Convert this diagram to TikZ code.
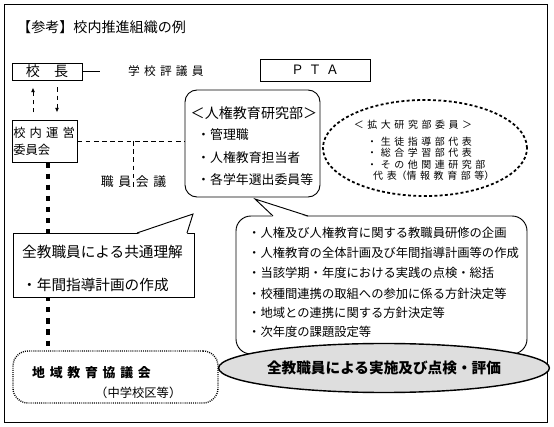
\documentclass[tikz,border=0pt]{standalone}
\usepackage{fontspec}
\setmainfont{Noto Sans CJK JP}[WordSpace=1.6]
\usetikzlibrary{arrows.meta,shapes.geometric}
\begin{document}
\begin{tikzpicture}[x=0.03cm,y=-0.03cm]
		\tikzstyle{every node}=[inner sep=0pt];
		\tikzstyle{frame}=[draw,line width=0.8pt];
		\tikzstyle{link}=[dash pattern=on 4pt off 3pt,line width=0.8pt];
		\tikzstyle{tip}=[-{Latex[length=4pt,width=3.5pt]}];
		\useasboundingbox (0,0) rectangle (554,427);
		\draw[line width=0.8pt] (4,4) rectangle (547,422);
		\node[anchor=west,font=\fontsize{12}{14}\selectfont] (title) at (17,27) {【参考】校内推進組織の例};
		\node[frame,minimum width=2.1cm,minimum height=0.51cm,font=\fontsize{12}{14}\selectfont] (kocho) at (47,71.5) {校　長};
		\node[anchor=west,font=\fontsize{10}{12}\selectfont] (hyogi) at (128,71.5) {学 校 評 議 員};
		\coordinate (stub) at (100,71.5);
		\draw[line width=0.8pt] (kocho.east) -- (stub);
		\node[frame,minimum width=3.3cm,minimum height=0.66cm,font=\fontsize{11}{13}\selectfont] (pta) at (315,70) {Ｐ Ｔ Ａ};
		\node[frame,minimum width=1.95cm,minimum height=1.26cm,align=left,text width=1.87cm,font=\fontsize{10.5}{14.5}\selectfont] (unei) at (44.5,141) {校 内 運 営\\委員会};
		\coordinate (up) at (33,0);
		\coordinate (down) at (57,0);
		\draw[link,tip,shorten <=6pt,shorten >=6pt] (up |- unei.north) -- (up |- kocho.south);
		\draw[link,tip,shorten <=6pt,shorten >=6pt] (down |- kocho.south) -- (down |- unei.north);
		\node[draw,rounded corners=0.36cm,line width=0.8pt,minimum width=4.05cm,minimum height=3.21cm] (kenkyu) at (252.5,143.5) {};
		\node[font=\fontsize{12}{14}\selectfont] (kenkyuhead) at (254,113) {＜人権教育研究部＞};
		\node[anchor=west,font=\fontsize{11}{13}\selectfont] (kanri) at (197,135) {・管理職};
		\node[anchor=west,font=\fontsize{11}{13}\selectfont] (tanto) at (197,158) {・人権教育担当者};
		\node[anchor=west,font=\fontsize{11}{13}\selectfont] (senshutsu) at (197,180) {・各学年選出委員等};
		\draw[link] (unei.east) -- (unei.east -| kenkyu.west);
		\node[font=\fontsize{11}{13}\selectfont] (kaigi) at (133.5,182) {職 員 会 議};
		\coordinate (j) at (133.5,141);
		\coordinate (jend) at (133.5,187);
		\draw[link,line width=1pt] (j) -- (jend);
		\node[draw,ellipse,line width=1.5pt,dash pattern=on 2.5pt off 2pt,minimum width=6.12cm,minimum height=2.88cm] (kakudai) at (425,148) {};
		\node[font=\fontsize{8.5}{10}\selectfont] (kakudaihead) at (413,125) {＜ 拡 大 研 究 部 委 員 ＞};
		\node[anchor=west,font=\fontsize{8.5}{10}\selectfont] (seito) at (367,141.5) {・ 生 徒 指 導 部 代 表};
		\node[anchor=west,font=\fontsize{8.5}{10}\selectfont] (sogo) at (367,153) {・ 総 合 学 習 部 代 表};
		\node[anchor=west,font=\fontsize{8.5}{10}\selectfont] (sonota) at (367,164.5) {・ そ の 他 関 連 研 究 部};
		\node[anchor=west,font=\fontsize{8.5}{10}\selectfont] (joho) at (373,176) {代 表（情 報 教 育 部 等）};
		\node[draw,rounded corners=0.45cm,line width=1.2pt,dash pattern=on 0.8pt off 1pt,minimum width=6.15cm,minimum height=1.56cm] (chiiki) at (115.5,377) {};
		\node[anchor=west,font=\bfseries\fontsize{11}{13}\selectfont] (chiikiname) at (32,373) {地 域 教 育 協 議 会};
		\node[anchor=west,font=\fontsize{10.5}{12}\selectfont] (kuiki) at (95,393) {（中学校区等）};
		\coordinate (col) at (48,0);
		\draw[line width=3.4pt,dash pattern=on 4.5pt off 5pt] (col |- unei.south) -- (col |- chiiki.north);
		\node[frame,fill=white,minimum width=5.43cm,minimum height=1.92cm] (rikai) at (103.5,265) {};
		\coordinate (rt) at (193,214);
		\coordinate (ra) at (137,233);
		\coordinate (rb) at (187,233);
		\fill[white] ([yshift=-1pt]ra) -- (rt) -- ([yshift=-1pt]rb) -- cycle;
		\draw[line width=0.8pt] (ra) -- (rt) -- (rb);
		\node[anchor=west,font=\fontsize{12.5}{15}\selectfont] (rikai1) at (22,252) {全教職員による共通理解};
		\node[anchor=west,font=\fontsize{12.5}{15}\selectfont] (rikai2) at (22,285) {・年間指導計画の作成};
		\node[frame,fill=white,rounded corners=0.45cm,minimum width=8.73cm,minimum height=4.14cm] (kikaku) at (381.5,285) {};
		\coordinate (kt) at (255,199);
		\coordinate (ka) at (273,216);
		\coordinate (kb) at (308,216);
		\fill[white] ([yshift=-1pt]ka) -- (kt) -- ([yshift=-1pt]kb) -- cycle;
		\draw[line width=0.8pt] (ka) -- (kt) -- (kb);
		\node[anchor=west,font=\fontsize{10.5}{12}\selectfont] (k1) at (248,233) {・人権及び人権教育に関する教職員研修の企画};
		\node[anchor=west,font=\fontsize{10.5}{12}\selectfont] (k2) at (248,253) {・人権教育の全体計画及び年間指導計画等の作成};
		\node[anchor=west,font=\fontsize{10.5}{12}\selectfont] (k3) at (248,273) {・当該学期・年度における実践の点検・総括};
		\node[anchor=west,font=\fontsize{10.5}{12}\selectfont] (k4) at (248,294) {・校種間連携の取組への参加に係る方針決定等};
		\node[anchor=west,font=\fontsize{10.5}{12}\selectfont] (k5) at (248,313) {・地域との連携に関する方針決定等};
		\node[anchor=west,font=\fontsize{10.5}{12}\selectfont] (k6) at (248,332) {・次年度の課題設定等};
		\node[draw,ellipse,fill=black!13,line width=1.2pt,minimum width=8.34cm,minimum height=1.47cm,font=\bfseries\fontsize{12.5}{15}\selectfont] (hyoka) at (384,368) {全教職員による実施及び点検・評価};
		\end{tikzpicture}
\end{document}
